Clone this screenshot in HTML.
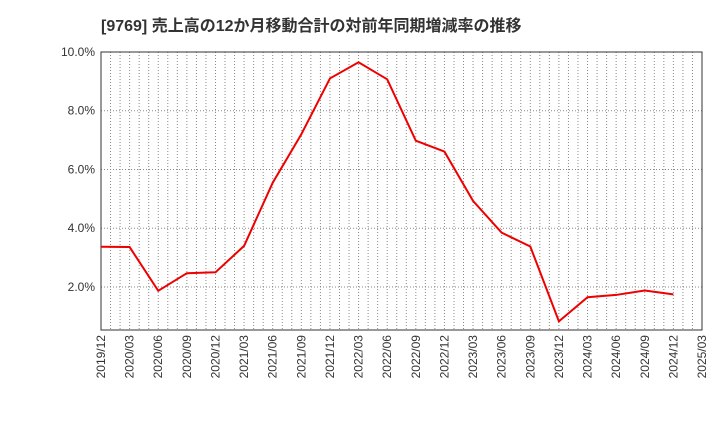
<!DOCTYPE html>
<html><head><meta charset="utf-8"><style>
body{margin:0;background:#fff;}
svg text{font-family:"Liberation Sans","Noto Sans CJK JP",sans-serif;}
</style></head><body>
<svg id="c" width="720" height="440" xmlns="http://www.w3.org/2000/svg">
<text x="101" y="31" font-size="16" font-weight="bold" fill="#333">[9769]  売上高の12か月移動合計の対前年同期増減率の推移</text>
</svg>
<script>
const categories=["2019/12","2020/03","2020/06","2020/09","2020/12","2021/03","2021/06","2021/09","2021/12","2022/03","2022/06","2022/09","2022/12","2023/03","2023/06","2023/09","2023/12","2024/03","2024/06","2024/09","2024/12","2025/03"];
const values=[3.37,3.36,1.87,2.47,2.50,3.40,5.55,7.2,9.1,9.65,9.07,6.98,6.61,4.93,3.85,3.38,0.83,1.65,1.73,1.88,1.75];
const yTicks=[2,4,6,8,10];
const yTickLabels=["2.0%","4.0%","6.0%","8.0%","10.0%"];
const svg=document.getElementById('c');const NS="http://www.w3.org/2000/svg";
const L=101,R=702,T=52,B=330,yMin=0.536,yMax=10;
const x=i=>L+(R-L)*i/(categories.length-1);
const y=v=>B-(B-T)*(v-yMin)/(yMax-yMin);
function mk(t,a,p){const e=document.createElementNS(NS,t);for(const k in a)e.setAttribute(k,a[k]);(p||svg).appendChild(e);return e;}
const grid=mk('g',{});


for(let m=1;m<(categories.length-1)*3;m++){const xx=L+(R-L)*m/((categories.length-1)*3);mk('line',{x1:xx,x2:xx,y1:T,y2:B,stroke:'#888','stroke-dasharray':'1,2','stroke-width':1},grid);}
yTicks.forEach((v,i)=>{mk('line',{x1:L,x2:R,y1:y(v),y2:y(v),stroke:'#888','stroke-dasharray':'1,2'},grid);
const t=mk('text',{x:L-6,y:y(v)+4,'text-anchor':'end','font-size':12,fill:'#333'});t.textContent=yTickLabels[i];

});
const frame=mk('rect',{x:L,y:T,width:R-L,height:B-T,fill:'none',stroke:'#333'});


categories.forEach((c,i)=>{const t=mk('text',{transform:`translate(${x(i)+4},${B+5}) rotate(-90)`,'text-anchor':'end','font-size':12,fill:'#333'});t.textContent=c;

});
const line=mk('polyline',{points:values.map((v,i)=>x(i)+','+y(v)).join(' '),fill:'none',stroke:'#e00','stroke-width':2});


</script>
</body></html>
